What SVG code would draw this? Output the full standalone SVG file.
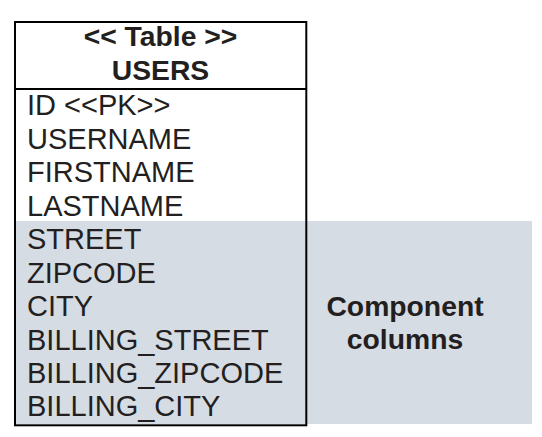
<svg xmlns="http://www.w3.org/2000/svg" width="542" height="437" viewBox="0 0 542 437">
<style>
text{font-family:"Liberation Sans",Arial,sans-serif;font-size:29px;fill:#231F20}
.b{font-weight:bold;font-size:28.3px}
.c{text-anchor:middle}
</style>
<rect width="542" height="437" fill="#ffffff"/>
<g id="component-band">
<rect x="15" y="221" width="517" height="203" fill="#D6DCE4"/>
<text class="b c" x="405" y="316">Component</text>
<text class="b c" x="405" y="349">columns</text>
</g>
<g id="users-table">
<rect x="15" y="22" width="291.3" height="403.3" fill="none" stroke="#000" stroke-width="2"/>
<line x1="15" y1="89" x2="306.3" y2="89" stroke="#000" stroke-width="2"/>
<text class="b c" x="160.5" y="46">&lt;&lt; Table &gt;&gt;</text>
<text class="b c" x="160.5" y="80">USERS</text>
<text x="27" y="115">ID &lt;&lt;PK&gt;&gt;</text>
<text x="27" y="148.5">USERNAME</text>
<text x="27" y="182">FIRSTNAME</text>
<text x="27" y="215.5">LASTNAME</text>
<text x="27" y="249">STREET</text>
<text x="27" y="282.5">ZIPCODE</text>
<text x="27" y="316">CITY</text>
<text x="27" y="349.5">BILLING_STREET</text>
<text x="27" y="383">BILLING_ZIPCODE</text>
<text x="27" y="416">BILLING_CITY</text>
</g>
<g id="connectors"></g>
</svg>
